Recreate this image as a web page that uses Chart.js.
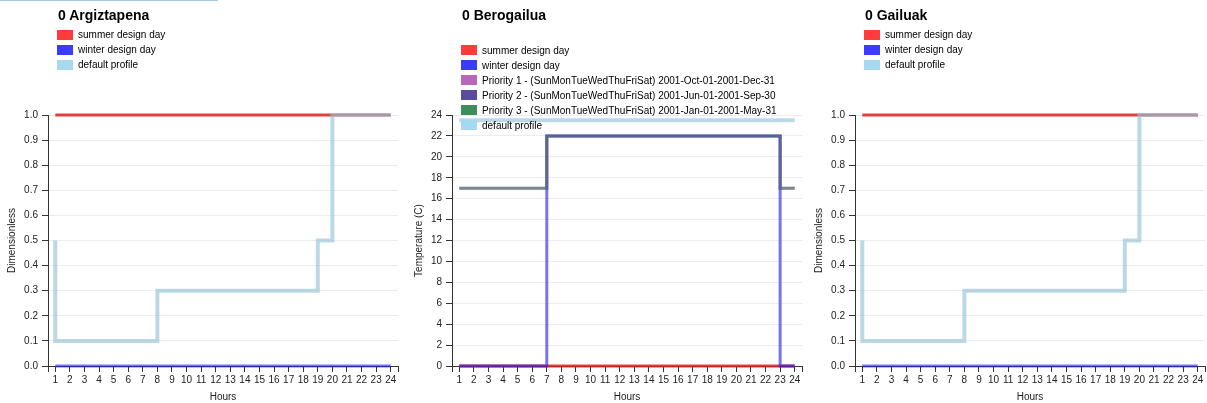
<!DOCTYPE html>
<html>
<head>
<meta charset="utf-8">
<script src="https://cdn.jsdelivr.net/npm/chart.js@4.4.1/dist/chart.umd.min.js"></script>
<style>
  html, body { margin: 0; padding: 0; background: #fff; }
  body { width: 1207px; height: 403px; position: relative; overflow: hidden; font-family: "Liberation Sans", Arial, sans-serif; }
  .barra { position: absolute; left: 0; top: 0; width: 218px; height: 1px; background: #a3c9e6; }
  .panel { position: absolute; top: 0; width: 400px; height: 403px; }
  .panel canvas { position: absolute; left: 0; top: 0; }
  .titulo { position: absolute; left: 58px; top: 7px; font-weight: bold; font-size: 14px; line-height: 16px; color: #000; white-space: nowrap; }
  .leyenda { position: absolute; left: 57px; font-size: 10px; color: #000; }
  .item { height: 15px; display: flex; align-items: center; white-space: nowrap; }
  .caja { width: 16px; height: 10px; margin-right: 5px; flex: none; }
</style>
</head>
<body>
<div class="barra"></div>
<div class="panel" id="p1" style="left:0px"><canvas id="c1" width="400" height="403"></canvas></div>
<div class="panel" id="p2" style="left:404px"><canvas id="c2" width="400" height="403"></canvas></div>
<div class="panel" id="p3" style="left:807px"><canvas id="c3" width="400" height="403"></canvas></div>
<script>
// Horas del día (eje X)
const horas = [1, 2, 3, 4, 5, 6, 7, 8, 9, 10, 11, 12, 13, 14, 15, 16, 17, 18, 19, 20, 21, 22, 23, 24];
const marcasX = [0.5, 1, 2, 3, 4, 5, 6, 7, 8, 9, 10, 11, 12, 13, 14, 15, 16, 17, 18, 19, 20, 21, 22, 23, 24, 24.5];

// Textos
const titulos = ['0 Argiztapena', '0 Berogailua', '0 Gailuak'];
const titulosY = ['Dimensionless', 'Temperature (C)', 'Dimensionless'];
const tituloX = 'Hours';
const etiquetaVerano = 'summer design day';
const etiquetaInvierno = 'winter design day';
const etiquetaP1 = 'Priority 1 - (SunMonTueWedThuFriSat) 2001-Oct-01-2001-Dec-31';
const etiquetaP2 = 'Priority 2 - (SunMonTueWedThuFriSat) 2001-Jun-01-2001-Sep-30';
const etiquetaP3 = 'Priority 3 - (SunMonTueWedThuFriSat) 2001-Jan-01-2001-May-31';
const etiquetaDefecto = 'default profile';

// Panel 1: Argiztapena
const argVerano   = [1, 1, 1, 1, 1, 1, 1, 1, 1, 1, 1, 1, 1, 1, 1, 1, 1, 1, 1, 1, 1, 1, 1, 1];
const argInvierno = [0, 0, 0, 0, 0, 0, 0, 0, 0, 0, 0, 0, 0, 0, 0, 0, 0, 0, 0, 0, 0, 0, 0, 0];
const argDefecto  = [0.5, 0.1, 0.1, 0.1, 0.1, 0.1, 0.1, 0.1, 0.3, 0.3, 0.3, 0.3, 0.3, 0.3, 0.3, 0.3, 0.3, 0.3, 0.3, 0.5, 1, 1, 1, 1];

// Panel 2: Berogailua
const berVerano   = [0, 0, 0, 0, 0, 0, 0, 0, 0, 0, 0, 0, 0, 0, 0, 0, 0, 0, 0, 0, 0, 0, 0, 0];
const berInvierno = [0, 0, 0, 0, 0, 0, 0, 22, 22, 22, 22, 22, 22, 22, 22, 22, 22, 22, 22, 22, 22, 22, 22, 0];
const berP1       = [17, 17, 17, 17, 17, 17, 17, 22, 22, 22, 22, 22, 22, 22, 22, 22, 22, 22, 22, 22, 22, 22, 22, 17];
const berP2       = [17, 17, 17, 17, 17, 17, 17, 22, 22, 22, 22, 22, 22, 22, 22, 22, 22, 22, 22, 22, 22, 22, 22, 17];
const berP3       = [17, 17, 17, 17, 17, 17, 17, 22, 22, 22, 22, 22, 22, 22, 22, 22, 22, 22, 22, 22, 22, 22, 22, 17];
const berDefecto  = [23.5, 23.5, 23.5, 23.5, 23.5, 23.5, 23.5, 23.5, 23.5, 23.5, 23.5, 23.5, 23.5, 23.5, 23.5, 23.5, 23.5, 23.5, 23.5, 23.5, 23.5, 23.5, 23.5, 23.5];

// Panel 3: Gailuak
const gaiVerano   = [1, 1, 1, 1, 1, 1, 1, 1, 1, 1, 1, 1, 1, 1, 1, 1, 1, 1, 1, 1, 1, 1, 1, 1];
const gaiInvierno = [0, 0, 0, 0, 0, 0, 0, 0, 0, 0, 0, 0, 0, 0, 0, 0, 0, 0, 0, 0, 0, 0, 0, 0];
const gaiDefecto  = [0.5, 0.1, 0.1, 0.1, 0.1, 0.1, 0.1, 0.1, 0.3, 0.3, 0.3, 0.3, 0.3, 0.3, 0.3, 0.3, 0.3, 0.3, 0.3, 0.5, 1, 1, 1, 1];

// Estilos
const estilos = {
  verano:   { linea: 'rgba(222,30,30,0.85)',  caja: '#ff3b3b', ancho: 3, orden: 5 },
  invierno: { linea: 'rgba(30,30,240,0.62)',  caja: '#3b3bff', ancho: 3, orden: 4 },
  p1:       { linea: 'rgba(180,90,180,0.38)', caja: '#b868b8', ancho: 3, orden: 3 },
  p2:       { linea: 'rgba(80,60,140,0.38)',  caja: '#5a4c9c', ancho: 3, orden: 2 },
  p3:       { linea: 'rgba(40,130,70,0.38)',  caja: '#3e8c5a', ancho: 3, orden: 1 },
  defecto:  { linea: 'rgba(150,195,215,0.65)', caja: '#a6d8f0', ancho: 4, orden: 0 }
};

Chart.defaults.font.family = '"Liberation Sans", Arial, sans-serif';
Chart.defaults.color = '#222';

function serie(etiqueta, datos, clave) {
  const e = estilos[clave];
  return {
    label: etiqueta,
    data: datos,
    borderColor: e.linea,
    backgroundColor: e.caja,
    borderWidth: e.ancho,
    stepped: 'after',
    pointRadius: 0,
    fill: false,
    clip: false,
    order: e.orden
  };
}

// Título y leyenda HTML generados a partir de los datasets
function crearLeyenda(panel, datasets, arriba) {
  const titulo = document.createElement('div');
  titulo.className = 'titulo';
  titulo.textContent = panel.titulo;
  panel.el.appendChild(titulo);

  const ley = document.createElement('div');
  ley.className = 'leyenda';
  ley.style.top = arriba + 'px';
  datasets.forEach(ds => {
    const item = document.createElement('div');
    item.className = 'item';
    const caja = document.createElement('span');
    caja.className = 'caja';
    caja.style.background = ds.backgroundColor;
    const txt = document.createElement('span');
    txt.textContent = ds.label;
    item.appendChild(caja);
    item.appendChild(txt);
    ley.appendChild(item);
  });
  panel.el.appendChild(ley);
}

function crearGrafico(canvas, datasets, yMax, paso, decimales, tituloY, padTitulo) {
  return new Chart(canvas, {
    type: 'line',
    data: { labels: horas, datasets: datasets },
    options: {
      responsive: false,
      animation: false,
      layout: { padding: { top: 115, right: 2, bottom: 0, left: 0 } },
      plugins: { legend: { display: false }, tooltip: { enabled: false } },
      scales: {
        x: {
          type: 'linear',
          min: 0.5,
          max: 24.5,
          afterBuildTicks: s => { s.ticks = marcasX.map(v => ({ value: v })); },
          afterFit: s => { s.height = 37; },
          ticks: {
            autoSkip: false,
            maxRotation: 0,
            padding: 2,
            font: { size: 10 },
            callback: v => Number.isInteger(v) ? String(v) : ''
          },
          grid: { drawOnChartArea: false, tickLength: 6, tickColor: '#333' },
          border: { color: '#333' },
          title: { display: true, text: tituloX, font: { size: 10 }, padding: { top: 0, bottom: 0 } }
        },
        y: {
          min: 0,
          max: yMax,
          afterFit: s => { s.width = 48; },
          ticks: {
            stepSize: paso,
            padding: 4,
            font: { size: 10 },
            callback: v => v.toFixed(decimales)
          },
          grid: { color: '#ececec', tickLength: 6, tickColor: '#333' },
          border: { color: '#333' },
          title: { display: true, text: tituloY, font: { size: 10 }, padding: { top: padTitulo, bottom: 0 } }
        }
      }
    }
  });
}

// Panel 1
const ds1 = [
  serie(etiquetaVerano, argVerano, 'verano'),
  serie(etiquetaInvierno, argInvierno, 'invierno'),
  serie(etiquetaDefecto, argDefecto, 'defecto')
];
crearGrafico(document.getElementById('c1'), ds1, 1, 0.1, 1, titulosY[0], 6);
crearLeyenda({ el: document.getElementById('p1'), titulo: titulos[0] }, ds1, 27);

// Panel 2
const ds2 = [
  serie(etiquetaVerano, berVerano, 'verano'),
  serie(etiquetaInvierno, berInvierno, 'invierno'),
  serie(etiquetaP1, berP1, 'p1'),
  serie(etiquetaP2, berP2, 'p2'),
  serie(etiquetaP3, berP3, 'p3'),
  serie(etiquetaDefecto, berDefecto, 'defecto')
];
crearGrafico(document.getElementById('c2'), ds2, 24, 2, 0, titulosY[1], 9);
crearLeyenda({ el: document.getElementById('p2'), titulo: titulos[1] }, ds2, 42.5);

// Panel 3
const ds3 = [
  serie(etiquetaVerano, gaiVerano, 'verano'),
  serie(etiquetaInvierno, gaiInvierno, 'invierno'),
  serie(etiquetaDefecto, gaiDefecto, 'defecto')
];
crearGrafico(document.getElementById('c3'), ds3, 1, 0.1, 1, titulosY[2], 6);
crearLeyenda({ el: document.getElementById('p3'), titulo: titulos[2] }, ds3, 27);
</script>
</body>
</html>
